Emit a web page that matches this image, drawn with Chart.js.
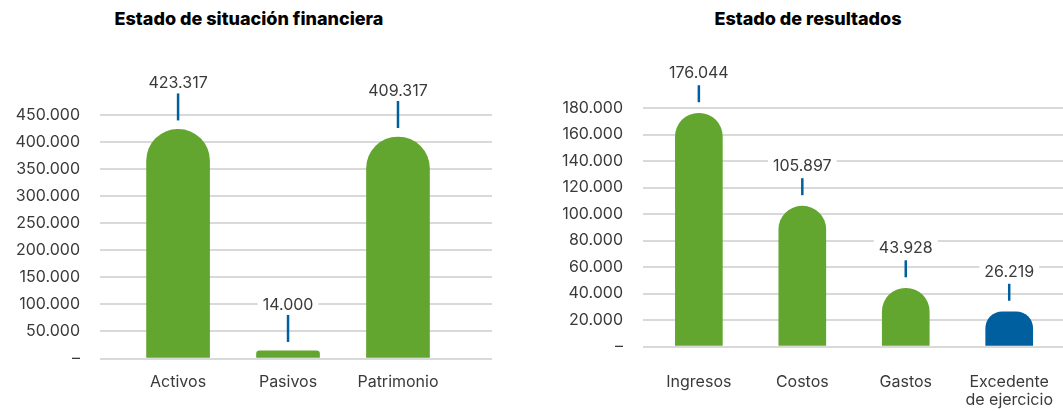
<!DOCTYPE html>
<html lang="es">
<head>
<meta charset="utf-8">
<script src="https://cdn.jsdelivr.net/npm/chart.js@4/dist/chart.umd.min.js"></script>
<style>
  html, body { margin:0; padding:0; background:#fff; }
  body { width:1063px; height:411px; position:relative; overflow:hidden; font-family: Inter, "Open Sans", sans-serif; }
  .titulo { position:absolute; top:8px; font-weight:800; font-size:18px; color:#000; text-align:center; white-space:nowrap; }
  .caja { position:absolute; top:0; height:411px; }
</style>
</head>
<body>

<!-- Titulos -->
<div class="titulo" style="left:0; width:498px;">Estado de situación financiera</div>
<div class="titulo" style="left:553px; width:510px;">Estado de resultados</div>

<div class="caja" style="left:0; width:498px;"><canvas id="chartSituacion"></canvas></div>
<div class="caja" style="left:553px; width:510px;"><canvas id="chartResultados"></canvas></div>

<script>
// ============================================================
// DATOS
// ============================================================
const categoriasSituacion = ['Activos', 'Pasivos', 'Patrimonio'];
const valoresSituacion = [423317, 14000, 409317];
const maxSituacion = 450000;
const pasoSituacion = 50000;

const categoriasResultados = ['Ingresos', 'Costos', 'Gastos', ['Excedente', 'de ejercicio']];
const valoresResultados = [176044, 105897, 43928, 26219];
const maxResultados = 180000;
const pasoResultados = 20000;

// ============================================================
// ESTILOS
// ============================================================
const VERDE = '#62a52f';
const AZUL = '#005f9e';
const TEXTO = '#3a3a3a';
const GRILLA = '#d9d9d9';
const FUENTE = 'Inter, "Open Sans", sans-serif';
const coloresResultados = [VERDE, VERDE, VERDE, AZUL];

// 423317 -> "423.317", 0 -> "–"
function formato(v) {
    if (v === 0) return '–';
    return String(v).replace(/\B(?=(\d{3})+(?!\d))/g, '.');
}

// ============================================================
// PLUGIN: etiqueta con linea guia
// ============================================================
const etiquetasPlugin = {
    id: 'etiquetas',
    afterDatasetsDraw(chart, args, opts) {
        const ctx = chart.ctx;
        const meta = chart.getDatasetMeta(0);
        const data = chart.data.datasets[0].data;
        ctx.save();
        ctx.font = '16px ' + FUENTE;
        ctx.textAlign = 'center';
        ctx.textBaseline = 'middle';
        meta.data.forEach((bar, i) => {
            const v = typeof data[i] === 'object' ? data[i].y : data[i];
            const txt = formato(v);
            const ty = bar.y - opts.texto;
            const w = ctx.measureText(txt).width;
            ctx.fillStyle = '#fff';
            ctx.fillRect(bar.x - w / 2 - 5, ty - 10, w + 10, 20);
            ctx.fillStyle = TEXTO;
            ctx.fillText(txt, bar.x, ty);
            ctx.strokeStyle = AZUL;
            ctx.lineWidth = 2.5;
            ctx.beginPath();
            ctx.moveTo(bar.x, bar.y - opts.lineaIni);
            ctx.lineTo(bar.x, bar.y - opts.lineaFin);
            ctx.stroke();
        });
        ctx.restore();
    }
};

function ejeY(max, paso, ancho) {
    return {
        min: 0,
        max: max,
        border: { display: false },
        grid: { color: GRILLA, lineWidth: 2, drawTicks: false },
        ticks: {
            stepSize: paso,
            padding: 20,
            color: TEXTO,
            font: { family: FUENTE, size: 16 },
            callback: v => formato(v)
        },
        afterFit: s => { s.width = ancho; }
    };
}

// eje x lineal: una categoria por entero
function ejeX(categorias, min, max, padding, alto) {
    return {
        type: 'linear',
        offset: false,
        min: min,
        max: max,
        border: { display: false },
        grid: { display: false },
        ticks: {
            stepSize: 1,
            includeBounds: false,
            autoSkip: false,
            maxRotation: 0,
            padding: padding,
            color: TEXTO,
            font: { family: FUENTE, size: 16, lineHeight: 1.15 },
            callback: v => (Number.isInteger(v) && categorias[v]) ? categorias[v] : ''
        },
        afterFit: s => {
            s.height = alto;
            s.paddingLeft = 0;
            s.paddingRight = 0;
        }
    };
}

// ============================================================
// GRAFICO 1: Estado de situacion financiera
// ============================================================
new Chart(document.getElementById('chartSituacion'), {
    type: 'bar',
    data: {
        datasets: [{
            data: valoresSituacion.map((v, i) => ({ x: i, y: v })),
            backgroundColor: VERDE,
            barThickness: 63,
            borderSkipped: 'bottom',
            borderRadius: { topLeft: 40, topRight: 40, bottomLeft: 0, bottomRight: 0 }
        }]
    },
    options: {
        responsive: true,
        maintainAspectRatio: false,
        animation: false,
        layout: { padding: { top: 115, right: 6, left: 0, bottom: 0 } },
        plugins: {
            legend: { display: false },
            tooltip: { enabled: false },
            etiquetas: { texto: 46, lineaIni: 36, lineaFin: 9 }
        },
        scales: {
            x: ejeX(categoriasSituacion, -0.71, 2.855, 6, 52.5),
            y: ejeY(maxSituacion, pasoSituacion, 100)
        }
    },
    plugins: [etiquetasPlugin]
});

// ============================================================
// GRAFICO 2: Estado de resultados
// ============================================================
new Chart(document.getElementById('chartResultados'), {
    type: 'bar',
    data: {
        datasets: [{
            data: valoresResultados.map((v, i) => ({ x: i, y: v })),
            backgroundColor: coloresResultados,
            barThickness: 47,
            borderSkipped: 'bottom',
            borderRadius: { topLeft: 30, topRight: 30, bottomLeft: 0, bottomRight: 0 }
        }]
    },
    options: {
        responsive: true,
        maintainAspectRatio: false,
        animation: false,
        layout: { padding: { top: 108, right: 0, left: 0, bottom: 0 } },
        plugins: {
            legend: { display: false },
            tooltip: { enabled: false },
            etiquetas: { texto: 40, lineaIni: 28, lineaFin: 11 }
        },
        scales: {
            x: ejeX(categoriasResultados, -0.54, 3.52, 18, 64.5),
            y: ejeY(maxResultados, pasoResultados, 90)
        }
    },
    plugins: [etiquetasPlugin]
});
</script>
</body>
</html>
